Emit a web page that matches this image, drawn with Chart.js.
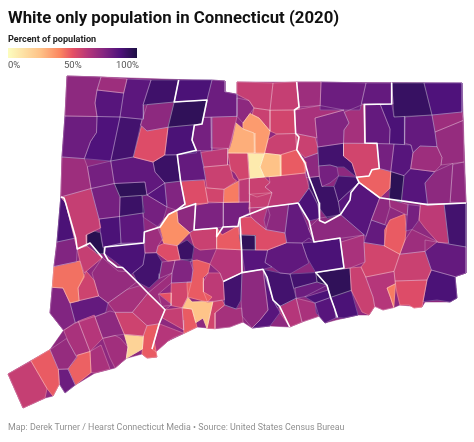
<!DOCTYPE html>
<html>
<head>
<meta charset="utf-8">
<style>
  html, body { margin: 0; padding: 0; background: #fff; }
  #wrap { position: relative; width: 474px; height: 442px; overflow: hidden; font-family: Roboto, sans-serif; }
  #wrap div { position: absolute; white-space: nowrap; }
  canvas { position: absolute; left: 0; top: 0; }
  #title { left: 8px; top: 7px; font-size: 16.8px; font-weight: 700; color: #111; }
  #sub { left: 8px; top: 34px; font-size: 9.1px; font-weight: 700; color: #222; }
  #bar { left: 8px; top: 48px; width: 129px; height: 10px; }
  .tick { top: 59px; font-size: 9.5px; color: #555; }
  #foot { left: 8px; top: 422px; font-size: 8.9px; color: #909090; }
</style>
</head>
<body>
<div id="wrap">
  <canvas id="myChart" width="474" height="442"></canvas>
  <div id="title">White only population in Connecticut (2020)</div>
  <div id="sub">Percent of population</div>
  <div id="bar"></div>
  <div class="tick" style="left:8px">0%</div>
  <div class="tick" style="left:64px">50%</div>
  <div class="tick" style="left:116px">100%</div>
  <div id="foot">Map: Derek Turner / Hearst Connecticut Media • Source: United States Census Bureau</div>
</div>
<script src="https://cdn.jsdelivr.net/npm/chart.js"></script>
<script>
// colour ramp of the legend
const rampStops = [0, 25, 40, 50, 62, 75, 87, 100];
const rampColors = ['#fcfdbf', '#fec287', '#fb8761', '#e55064', '#b5367a', '#812581', '#4f127b', '#1c1044'];

// state silhouette, sits under the towns
const stateOutline = [[67,76],[225,81],[225,92],[237,93],[237,82],[462,83],[466,203],[466,273],[455,277],[457,298],[450,302],[425,302],[422,307],[400,305],[393,308],[375,306],[369,315],[358,315],[336,320],[325,323],[317,313],[302,322],[290,327],[270,326],[252,328],[243,322],[215,329],[197,327],[185,333],[168,341],[155,352],[157,357],[147,358],[142,354],[127,358],[115,368],[95,373],[77,386],[60,384],[53,396],[45,398],[23,408],[8,374],[50,350],[64,331],[50,313],[52,288],[53,268],[55,265],[57,242],[59,197],[62,157],[65,116]];

// percent white, one per town shape
const townValues = [72,68,85,84,91,88,95,72,80,87,90,52,88,78,80,63,68,78,83,92,95,78,92,78,85,75,
  58,88,75,88,84,68,97,88,90,52,38,72,92,72,75,
  82,52,55,57,60,30,35,55,8,25,48,57,55,57,58,58,72,
  68,80,82,93,87,65,75,66,82,88,82,68,70,68,78,85,55,90,72,57,78,90,92,47,96,85,72,72,
  90,60,78,68,48,82,72,85,72,88,82,72,62,60,57,58,60,42,76,78,95,52,48,57,62,48,60,90,72,85,85,83,88,65,55,68,82,57,52,88,42,62,57,95,88,90,90,80,88,85,65,62,
  58,44,56,70,66,60,56,18,48,62,58,68,50,55,24,48,55,66,70,48,58,80,47,65,67,62,65,72,82,75];

const townShapes = [
  [[67,76],[101,77],[97,90],[95,103],[97,116],[65,116]],
  [[101,77],[127,79],[123,93],[97,90]],
  [[97,90],[124,93],[120,117],[97,116],[95,103]],
  [[127,79],[151,80],[143,105],[142,119],[120,117],[124,93]],
  [[151,80],[179,80],[174,102],[143,105]],
  [[179,80],[212,80],[207,100],[174,102]],
  [[175,102],[207,100],[202,124],[168,127]],
  [[147,103],[173,102],[168,127],[147,131],[142,125]],
  [[65,116],[97,117],[96,133],[90,143],[84,158],[62,157]],
  [[97,117],[120,117],[110,161],[85,159],[91,140],[97,132]],
  [[120,117],[142,119],[133,157],[111,161]],
  [[142,126],[147,131],[168,128],[164,155],[153,162],[134,157]],
  [[168,127],[195,125],[192,140],[196,150],[177,154],[165,155]],
  [[204,118],[211,117],[211,148],[197,151],[192,140],[195,125],[202,124]],
  [[212,80],[225,81],[225,92],[237,93],[237,117],[204,117],[207,100]],
  [[211,117],[237,117],[232,140],[228,148],[212,148]],
  [[62,157],[84,159],[87,167],[91,190],[60,197]],
  [[87,163],[111,161],[112,182],[91,186],[88,170]],
  [[111,161],[133,157],[153,162],[155,172],[164,183],[147,195],[145,182],[115,184],[112,167]],
  [[153,162],[165,155],[177,155],[180,180],[165,183],[155,172]],
  [[115,184],[145,182],[147,195],[120,197]],
  [[91,186],[115,184],[120,197],[121,217],[99,219],[92,197]],
  [[120,197],[142,196],[143,213],[121,215]],
  [[142,196],[147,195],[167,207],[163,220],[157,224],[145,217]],
  [[147,195],[165,183],[167,200],[167,207]],
  [[165,183],[180,180],[185,203],[177,210],[167,207]],

  [[64,197],[91,192],[99,220],[100,228],[86,235],[86,248],[77,248],[65,203]],
  [[59,197],[64,197],[66,203],[76,238],[57,242]],
  [[57,242],[75,238],[77,248],[78,250],[76,260],[55,265]],
  [[99,218],[118,217],[121,243],[105,247],[103,240]],
  [[118,217],[143,213],[147,232],[143,243],[121,243]],
  [[143,232],[160,227],[165,238],[158,246],[156,253],[145,253]],
  [[86,235],[93,229],[100,233],[105,253],[98,252],[90,243],[86,245]],
  [[105,247],[121,244],[143,243],[145,253],[143,265],[133,273],[122,267],[113,260],[105,257],[104,252]],
  [[145,253],[156,253],[162,262],[157,273],[158,279],[149,288],[138,282],[133,273],[143,265]],
  [[158,246],[165,243],[176,245],[179,258],[168,262],[157,252]],
  [[159,227],[170,214],[176,213],[178,223],[190,233],[177,244],[163,244]],
  [[177,208],[195,204],[193,230],[189,232],[178,222]],
  [[187,240],[195,248],[192,258],[181,260],[178,248]],
  [[162,262],[175,260],[173,273],[160,278]],
  [[175,260],[190,260],[193,270],[192,282],[172,283],[173,273]],

  [[178,155],[202,152],[203,180],[181,183]],
  [[182,183],[205,180],[208,202],[185,205]],
  [[207,188],[222,190],[223,202],[208,202]],
  [[204,167],[228,165],[233,178],[235,182],[225,189],[207,187]],
  [[199,153],[228,148],[227,165],[204,167],[202,161]],
  [[237,123],[242,128],[254,133],[255,153],[228,153]],
  [[242,123],[252,115],[259,118],[270,130],[265,152],[255,153],[254,133],[244,130]],
  [[228,153],[247,153],[248,178],[239,179],[235,173],[230,170]],
  [[248,153],[264,153],[260,167],[264,177],[249,178]],
  [[264,155],[280,155],[281,177],[265,177],[260,167]],
  [[280,155],[297,150],[305,163],[305,173],[281,177]],
  [[265,153],[270,140],[277,134],[295,134],[297,149],[280,155]],
  [[270,110],[294,110],[294,133],[277,134],[270,133]],
  [[254,108],[270,111],[270,130],[259,118],[252,115]],
  [[237,82],[273,83],[270,110],[254,108],[249,100],[237,97]],
  [[273,83],[296,82],[299,107],[294,110],[270,110]],
  [[237,98],[249,101],[254,108],[244,123],[237,115]],

  [[297,82],[322,82],[320,105],[299,107]],
  [[320,82],[366,83],[360,110],[320,110]],
  [[366,83],[391,83],[391,103],[362,103]],
  [[392,83],[424,83],[432,117],[394,117]],
  [[424,83],[462,83],[462,112],[432,113]],
  [[295,110],[320,106],[344,112],[315,118],[315,138],[299,134],[295,133]],
  [[315,118],[344,113],[349,123],[344,130],[345,143],[317,147]],
  [[344,112],[365,105],[365,143],[345,143],[344,130],[349,123]],
  [[365,105],[380,105],[390,130],[389,143],[365,143]],
  [[380,105],[392,105],[394,117],[405,117],[404,143],[390,143],[390,128]],
  [[405,117],[432,117],[435,132],[437,146],[420,146],[415,152],[412,145],[405,143]],
  [[432,113],[462,112],[463,120],[435,132]],
  [[435,132],[463,121],[464,162],[442,166],[442,157],[437,147]],
  [[412,153],[420,146],[437,147],[442,158],[440,164],[435,171],[412,168]],
  [[377,143],[394,144],[392,170],[380,168]],
  [[394,144],[410,145],[412,153],[410,170],[404,176],[393,172]],
  [[342,143],[377,144],[379,168],[372,169],[369,176],[357,177],[352,163],[344,157]],
  [[318,147],[342,144],[343,155],[352,163],[356,177],[344,167],[337,167],[330,165],[318,166]],
  [[305,157],[318,153],[320,175],[309,177]],
  [[297,134],[315,138],[318,147],[318,153],[305,157],[297,150]],
  [[319,166],[330,165],[337,167],[339,177],[330,183],[322,186],[319,177]],
  [[338,175],[356,178],[359,183],[350,193],[339,200],[334,187]],
  [[309,177],[319,177],[322,187],[334,186],[338,202],[339,215],[327,218],[320,208],[312,193],[309,188]],
  [[357,177],[369,176],[372,170],[379,170],[389,172],[387,188],[380,197],[359,182]],
  [[389,172],[404,176],[402,200],[388,197]],
  [[404,175],[410,168],[434,172],[425,183],[428,204],[402,200]],
  [[435,172],[452,165],[450,202],[428,205],[425,183]],
  [[454,164],[464,162],[466,203],[450,202]],

  [[444,203],[466,203],[466,247],[449,243],[444,213]],
  [[420,207],[444,204],[449,243],[439,241],[425,228],[419,220]],
  [[407,205],[420,205],[419,220],[412,230],[406,231]],
  [[390,200],[409,204],[405,215],[390,207]],
  [[390,220],[404,215],[406,231],[405,240],[399,252],[384,245],[387,230]],
  [[372,220],[385,225],[384,245],[364,242]],
  [[379,200],[390,200],[390,207],[385,224],[371,220]],
  [[338,203],[359,183],[380,197],[371,220],[364,235],[342,215]],
  [[309,228],[319,222],[342,213],[364,235],[314,242]],
  [[299,203],[309,188],[319,203],[320,218],[309,220],[300,210]],
  [[287,203],[299,203],[314,242],[302,243],[287,242],[285,233]],
  [[267,207],[290,204],[287,220],[285,233],[267,230],[264,220]],
  [[249,208],[267,207],[270,215],[264,228],[255,222],[250,217]],
  [[269,177],[305,173],[309,188],[299,203],[269,207],[272,195],[265,187],[270,182]],
  [[250,178],[264,177],[270,183],[265,187],[272,192],[257,197],[250,193]],
  [[250,195],[272,191],[269,207],[249,208]],
  [[238,180],[250,179],[251,202],[239,202]],
  [[223,202],[225,189],[237,181],[239,202]],
  [[197,203],[223,202],[224,203],[222,227],[218,228],[195,230]],
  [[224,203],[248,202],[248,213],[239,218],[238,226],[225,227]],
  [[242,235],[255,235],[256,250],[242,250]],
  [[240,218],[252,217],[259,225],[267,231],[285,233],[286,243],[269,250],[255,250],[255,236],[242,234]],
  [[215,237],[218,228],[222,235],[238,227],[240,247],[230,250],[217,248]],
  [[190,233],[195,230],[215,228],[217,238],[215,248],[200,250],[193,245]],
  [[210,263],[218,250],[241,250],[241,273],[223,281],[220,273]],
  [[190,262],[197,260],[210,265],[206,273],[203,278],[204,292],[212,297],[207,303],[188,297],[187,283],[192,282],[193,270]],
  [[210,273],[220,273],[223,282],[222,300],[208,302],[203,292],[206,282]],
  [[224,282],[241,273],[241,300],[236,309],[225,305]],
  [[242,273],[262,270],[268,310],[260,320],[252,328],[243,316],[241,300]],
  [[262,270],[265,270],[273,300],[280,313],[270,326],[252,328],[260,320],[268,310]],
  [[243,252],[267,250],[265,263],[272,267],[262,270],[245,272]],
  [[267,250],[287,243],[302,243],[309,263],[290,274],[280,273],[272,267],[265,262]],
  [[302,243],[309,238],[314,242],[340,238],[344,268],[315,273],[305,258]],
  [[342,242],[363,237],[365,262],[350,268],[344,268]],
  [[364,243],[384,247],[400,255],[394,272],[365,277],[361,267],[365,262]],
  [[405,240],[412,229],[437,241],[425,252],[400,255]],
  [[425,240],[466,247],[466,273],[456,276],[432,270],[425,250]],
  [[400,255],[425,252],[431,270],[427,280],[395,280],[394,270]],
  [[395,280],[427,280],[422,307],[414,308],[409,305],[400,305],[397,293]],
  [[431,270],[454,277],[457,298],[450,302],[437,300],[425,302],[424,298],[427,280]],
  [[387,288],[394,284],[396,306],[393,308],[390,297]],
  [[366,277],[394,272],[395,283],[387,288],[391,298],[393,308],[383,310],[375,306],[372,297]],
  [[350,268],[361,267],[366,277],[374,297],[374,307],[369,315],[362,312],[352,290]],
  [[317,274],[350,268],[351,290],[332,297],[327,285],[317,282]],
  [[333,297],[351,291],[358,315],[344,318],[339,317],[335,310]],
  [[265,268],[280,273],[290,274],[296,297],[280,307],[274,303],[270,287]],
  [[290,274],[315,270],[317,282],[295,288]],
  [[295,288],[317,282],[327,285],[328,290],[309,297],[296,298]],
  [[305,298],[327,286],[329,298],[315,303]],
  [[315,303],[330,298],[334,308],[336,320],[325,323],[317,313]],
  [[297,298],[315,303],[317,318],[302,322],[296,300]],
  [[280,307],[296,298],[302,322],[290,327],[280,312]],

  [[77,251],[88,245],[102,258],[87,272],[80,261]],
  [[53,268],[80,261],[86,278],[78,288],[80,300],[70,303],[63,288],[53,286]],
  [[87,272],[92,281],[98,296],[78,301],[78,288]],
  [[102,258],[118,271],[128,271],[135,281],[140,286],[127,289],[108,303],[98,296],[92,273]],
  [[140,284],[147,293],[138,304],[132,313],[115,311],[108,303],[127,290]],
  [[148,293],[165,311],[160,324],[147,326],[133,311]],
  [[115,313],[132,313],[147,326],[145,336],[125,334]],
  [[123,335],[142,336],[143,349],[127,358],[128,346]],
  [[147,325],[158,323],[153,341],[157,357],[147,358],[142,354],[143,336]],
  [[160,323],[182,334],[173,338],[168,341],[155,352],[152,349],[158,325]],
  [[165,308],[181,308],[185,320],[183,330],[163,318]],
  [[147,293],[170,273],[172,283],[163,290],[160,295],[170,303],[171,306],[165,311]],
  [[157,293],[170,293],[171,305],[163,305]],
  [[170,283],[190,282],[187,297],[182,307],[172,307]],
  [[182,306],[188,297],[192,302],[213,302],[209,328],[205,328],[203,318],[198,322],[192,309],[183,309]],
  [[183,309],[192,309],[197,327],[185,333]],
  [[213,302],[222,300],[224,305],[215,313],[215,328],[207,329]],
  [[225,305],[236,309],[241,308],[243,322],[230,327],[215,329],[215,313]],
  [[50,349],[65,339],[73,356],[68,369],[58,369]],
  [[31,361],[50,350],[58,369],[60,384],[53,396],[47,388]],
  [[8,374],[31,361],[47,389],[45,398],[23,408]],
  [[59,370],[68,369],[74,384],[65,393],[58,384]],
  [[68,369],[78,356],[89,352],[91,374],[77,386],[73,384]],
  [[89,352],[101,345],[110,369],[95,373],[91,371]],
  [[102,339],[115,336],[120,338],[128,348],[125,359],[115,368],[110,358]],
  [[80,323],[95,318],[103,338],[92,351]],
  [[64,331],[78,323],[90,351],[77,356],[68,343]],
  [[95,316],[110,311],[115,313],[125,334],[115,335],[103,338]],
  [[70,303],[100,296],[108,303],[105,311],[75,324]],
  [[52,288],[63,288],[70,303],[75,321],[63,329],[50,313]]
];

// thick county boundaries
const countyLines = [
  [[178,80],[175,102],[207,100],[202,124],[193,126],[192,140],[196,150],[177,155],[180,180],[185,204],[177,210],[167,215],[160,227],[143,232],[145,243],[105,247],[103,252],[108,260],[117,267],[123,268],[135,280],[150,293],[165,308],[165,311],[160,324],[152,349]],
  [[59,197],[64,198],[66,203],[76,238],[77,248],[90,243],[103,257]],
  [[297,82],[299,107],[295,110],[294,133],[299,137],[296,150],[305,163],[309,177],[319,203],[320,219],[325,223],[339,215],[350,200],[352,192],[359,182],[380,197],[427,205],[466,203]],
  [[297,203],[309,222],[314,242],[340,238],[344,268],[316,273],[327,285],[329,297],[335,308],[336,318]],
  [[177,210],[195,204],[193,230],[217,228],[218,235],[222,227],[238,226],[240,218],[266,207],[297,203]],
  [[240,218],[242,250],[243,272],[262,268],[267,277],[272,297],[279,305],[289,327]],
  [[223,281],[243,272]],
  [[392,83],[392,104],[365,105],[365,143],[377,143],[379,168],[372,170],[369,176],[357,177],[359,182]]
];

function rampColor(value) {
  let i = 0;
  while (i < rampStops.length - 2 && value > rampStops[i + 1]) i++;
  const t = (value - rampStops[i]) / (rampStops[i + 1] - rampStops[i]);
  const a = rampColors[i], b = rampColors[i + 1];
  const mix = (p) => {
    const from = parseInt(a.substr(p, 2), 16), to = parseInt(b.substr(p, 2), 16);
    return Math.round(from + (to - from) * t);
  };
  return 'rgb(' + mix(1) + ',' + mix(3) + ',' + mix(5) + ')';
}

// shapes were read off by eye, so neighbours don't quite share corners: weld them
function weldCorners(shapes, radius) {
  const corners = [];
  shapes.forEach(s => s.forEach(p => corners.push(p)));
  const done = new Set();
  corners.forEach(p => {
    if (done.has(p)) return;
    const group = corners.filter(q => !done.has(q) && Math.hypot(q[0] - p[0], q[1] - p[1]) <= radius);
    const cx = group.reduce((sum, q) => sum + q[0], 0) / group.length;
    const cy = group.reduce((sum, q) => sum + q[1], 0) / group.length;
    group.forEach(q => { q[0] = cx; q[1] = cy; done.add(q); });
  });
}

// pull corners that land next to a neighbour's edge onto that edge
function snapToEdges(shapes, radius) {
  shapes.forEach((shape, si) => {
    shape.forEach(p => {
      let best = null, bestDist = radius;
      shapes.forEach((other, oi) => {
        if (oi === si) return;
        other.forEach((a, k) => {
          const b = other[(k + 1) % other.length];
          const dx = b[0] - a[0], dy = b[1] - a[1];
          const len = dx * dx + dy * dy;
          if (!len) return;
          const t = Math.max(0, Math.min(1, ((p[0] - a[0]) * dx + (p[1] - a[1]) * dy) / len));
          const qx = a[0] + t * dx, qy = a[1] + t * dy;
          const d = Math.hypot(p[0] - qx, p[1] - qy);
          if (d > 0.01 && d < bestDist) { bestDist = d; best = [qx, qy]; }
        });
      });
      if (best) { p[0] = best[0]; p[1] = best[1]; }
    });
  });
}

weldCorners(townShapes.concat(countyLines, [stateOutline]), 4);
snapToEdges(townShapes, 3);

function toPoints(shape) {
  return shape.map(p => ({ x: p[0], y: p[1] }));
}

// lower order is painted later: silhouette, town fills, town borders, county lines
const datasets = [];
countyLines.forEach(line => {
  datasets.push({ data: toPoints(line), borderColor: '#fff', borderWidth: 1.6, fill: false, order: 0 });
});
townShapes.forEach((shape, i) => {
  const points = toPoints(shape.concat([shape[0]]));
  const color = rampColor(townValues[i]);
  datasets.push({ data: points, backgroundColor: color, borderColor: color, borderWidth: 0.8, fill: 'shape', order: 2 });
  datasets.push({ data: points, borderColor: 'rgba(255,255,255,0.32)', borderWidth: 0.7, fill: false, order: 1 });
});
datasets.push({
  data: toPoints(stateOutline.concat([stateOutline[0]])),
  backgroundColor: rampColor(72),
  borderColor: rampColor(72),
  borderWidth: 0.5,
  fill: 'shape',
  order: 3
});

document.getElementById('bar').style.background = 'linear-gradient(to right,' +
  rampStops.map((s, i) => rampColors[i] + ' ' + s + '%').join(',') + ')';

new Chart(document.getElementById('myChart').getContext('2d'), {
  type: 'scatter',
  data: { datasets: datasets },
  options: {
    responsive: false,
    animation: false,
    layout: { padding: 0 },
    showLine: true,
    elements: { point: { radius: 0 }, line: { tension: 0, borderJoinStyle: 'round' } },
    plugins: { legend: { display: false }, tooltip: { enabled: false } },
    scales: {
      x: { type: 'linear', min: 0, max: 474, display: false },
      y: { type: 'linear', min: 0, max: 442, reverse: true, display: false }
    }
  }
});
</script>
</body>
</html>
